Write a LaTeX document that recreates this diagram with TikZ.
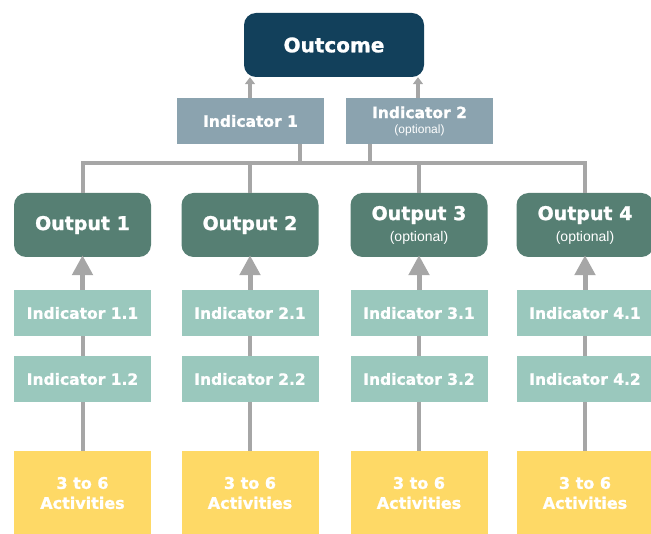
\documentclass[tikz,border=0pt]{standalone}
\usepackage{fontspec}
\setmainfont{DejaVu Sans}[BoldFeatures={FakeBold=1.2}]
\newfontfamily\optfont{Liberation Sans}
\usetikzlibrary{arrows.meta}
\definecolor{cOutcome}{HTML}{12405B}
\definecolor{cIndTop}{HTML}{8BA3AF}
\definecolor{cOutput}{HTML}{567F73}
\definecolor{cIndLow}{HTML}{9AC8BD}
\definecolor{cAct}{HTML}{FED966}
\definecolor{cLine}{HTML}{A6A6A6}
\tikzset{
  base/.style={rectangle, inner sep=0pt, text=white, align=center, font=\bfseries},
  outcomebox/.style={base, fill=cOutcome, rounded corners=12pt, minimum width=180pt, minimum height=64pt, font=\bfseries\fontsize{20}{22}\selectfont},
  indtop/.style={base, fill=cIndTop, minimum width=147pt, minimum height=46pt, font=\bfseries\fontsize{15.5}{15}\selectfont},
  outputbox/.style={base, fill=cOutput, rounded corners=12pt, minimum width=137pt, minimum height=64pt, font=\bfseries\fontsize{19}{21}\selectfont},
  indlow/.style={base, fill=cIndLow, minimum width=137pt, minimum height=46pt, font=\bfseries\fontsize{15.5}{17}\selectfont},
  actbox/.style={base, fill=cAct, minimum width=137pt, minimum height=84pt, font=\bfseries\fontsize{16}{20}\selectfont},
  conn/.style={draw=cLine, line width=4pt},
  smallarrow/.style={draw=cLine, line width=4pt, -{Triangle[width=10pt,length=7pt]}},
  bigarrow/.style={draw=cLine, line width=5pt, -{Triangle[width=20pt,length=20pt]}},
}
\begin{document}
\begin{tikzpicture}[x=1pt,y=-1pt]
\useasboundingbox (0,0) rectangle (651,534);
% top
\node[outcomebox] (outcome) at (334,45) {Outcome};
\node[indtop] (ind1) at (250.5,121) {Indicator 1};
\node[indtop] (ind2) at (419.5,121) {Indicator 2\\{\mdseries\optfont\fontsize{12}{15}\selectfont (optional)}};
% outputs
\node[outputbox] (out1) at (82.5,225) {Output 1};
\node[outputbox] (out2) at (250,225) {Output 2};
\node[outputbox] (out3) at (419,225) {Output 3\\{\mdseries\optfont\fontsize{14}{21}\selectfont (optional)}};
\node[outputbox] (out4) at (585,225) {Output 4\\{\mdseries\optfont\fontsize{14}{21}\selectfont (optional)}};
% indicators
\foreach \i/\x in {1/82.5,2/250,3/419,4/585}{
  \node[indlow] (ia\i) at (\x,313) {Indicator \i.1};
  \node[indlow] (ib\i) at (\x,379) {Indicator \i.2};
  \node[actbox] (act\i) at (\x,493) {3 to 6\\Activities};
}
% bus
\coordinate (bus) at (0,163);
\coordinate (d1) at (300,163);
\coordinate (d2) at (370,163);
\draw[conn] (out1.north) -- (out1.north |- bus) -- (out4.north |- bus) -- (out4.north);
\draw[conn] (out2.north) -- (out2.north |- bus);
\draw[conn] (out3.north) -- (out3.north |- bus);
\draw[conn] (d1 |- ind1.south) -- (d1);
\draw[conn] (d2 |- ind2.south) -- (d2);
% small arrows
\draw[smallarrow] ([xshift=-0.5pt]ind1.north) -- ([xshift=-0.5pt]ind1.north |- outcome.south);
\draw[smallarrow] ([xshift=-1.5pt]ind2.north) -- ([xshift=-1.5pt]ind2.north |- outcome.south);
% lower connectors
\foreach \i in {1,2,3,4}{
  \draw[bigarrow] (ia\i.north) -- ([yshift=2pt]out\i.south);
  \draw[conn] (ia\i.south) -- (ib\i.north);
  \draw[conn] (ib\i.south) -- (act\i.north);
}
\end{tikzpicture}
\end{document}
